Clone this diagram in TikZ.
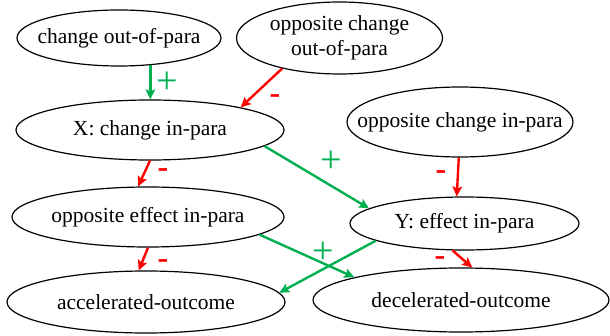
\documentclass[tikz,border=0pt]{standalone}
\usepackage{fontspec}
\setmainfont{Liberation Serif}
\usetikzlibrary{shapes.geometric,arrows.meta}
\definecolor{pgreen}{HTML}{00B050}
\definecolor{pred}{HTML}{FF0000}
\tikzset{
  ell/.style={ellipse,draw=black,line width=1.2pt,inner sep=0pt},
  ltext/.style={inner sep=0pt,font=\fontsize{21.5}{25}\selectfont,align=center},
  conn/.style={line width=2.4pt,-{Stealth[length=10pt,width=9.5pt,inset=2pt]}},
  gr/.style={conn,draw=pgreen},
  rd/.style={conn,draw=pred},
  plus/.style={text=pgreen,inner sep=0pt,font=\fontsize{38}{38}\selectfont},
  minus/.style={text=pred,inner sep=0pt,font=\fontsize{32}{32}\selectfont\bfseries}
}
\begin{document}
\begin{tikzpicture}[x=1pt,y=-1pt]
\useasboundingbox (0,0) rectangle (610,336);
\node[ell,minimum width=204pt,minimum height=56pt,label={[ltext]center:change out-of-para}] (A) at (119,38) {};
\node[ell,minimum width=206pt,minimum height=72pt,label={[ltext]center:opposite change\\out-of-para}] (B) at (339.5,38) {};
\node[ell,minimum width=268pt,minimum height=60pt,label={[ltext]center:X: change in-para}] (X) at (150,130) {};
\node[ell,minimum width=226pt,minimum height=70pt,label={[ltext]center:opposite change in-para}] (C) at (460,122) {};
\node[ell,minimum width=272pt,minimum height=60pt,label={[ltext]center:opposite effect in-para}] (E) at (148,217) {};
\node[ell,minimum width=229pt,minimum height=53pt,label={[ltext]center:Y: effect in-para}] (Y) at (464.5,223.5) {};
\node[ell,minimum width=278pt,minimum height=62pt,label={[ltext]center:accelerated-outcome}] (Acc) at (146,302) {};
\node[ell,minimum width=296pt,minimum height=64pt,label={[ltext]center:decelerated-outcome}] (Dec) at (461,300) {};

\draw[gr] (A.-41) -- (A.-41 |- X.north);
\draw[rd] (B.208) -- (X.14);
\draw[rd] (X.-90) -- (E.108);
\draw[gr] (X.-8) -- (Y.171);
\draw[rd] (C.-92) -- (Y.106);
\draw[rd] (E.-90) -- (Acc.103);
\draw[gr] (E.-9) -- (Dec.168);
\draw[gr] (Y.191) -- (Acc.4);
\draw[rd] (Y.-114) -- (Dec.71);

\node[plus] (p1) at (167.5,83) {+};
\node[plus] (p2) at (331,162) {+};
\node[plus] (p3) at (323,253) {+};
\node[minus] (m1) at (275,99) {-};
\node[minus] (m2) at (163,173) {-};
\node[minus] (m3) at (441,175) {-};
\node[minus] (m4) at (163,264) {-};
\node[minus] (m5) at (440,261) {-};
\end{tikzpicture}
\end{document}
